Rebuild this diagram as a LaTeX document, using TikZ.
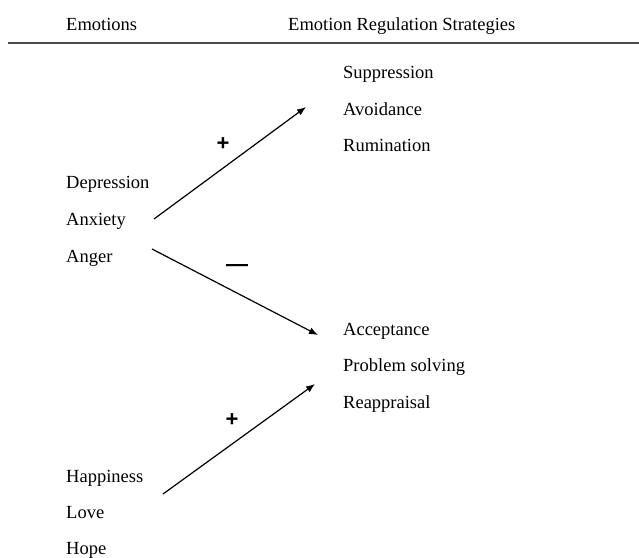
\documentclass[tikz,border=0pt]{standalone}
\usepackage{fontspec}
\setmainfont{Liberation Serif}
\setsansfont{Liberation Sans}
\usetikzlibrary{arrows.meta}

\tikzset{
  lbl/.style={anchor=base west,inner sep=0pt,font=\fontsize{18.5}{22}\selectfont},
  sgn/.style={anchor=base,inner sep=0pt,font=\fontsize{22}{24}\selectfont\sffamily\bfseries},
  link/.style={line width=1.2pt,-{Latex[length=9pt,width=7pt]}}
}

\begin{document}
\begin{tikzpicture}[x=1pt,y=-1pt]
\useasboundingbox (0,0) rectangle (639,557);
% header
\node[lbl] (emo) at (66,30) {Emotions};
\node[lbl] (ers) at (288,30) {Emotion Regulation Strategies};
\draw[line width=1.4pt,black!70] (8,43)--(639,43);
% strategies
\node[lbl] (sup) at (343,78.3) {Suppression};
\node[lbl] (avo) at (343,115) {Avoidance};
\node[lbl] (rum) at (343,151.7) {Rumination};
\node[lbl] (acc) at (343,335) {Acceptance};
\node[lbl] (pro) at (343,371.7) {Problem solving};
\node[lbl] (rea) at (343,408) {Reappraisal};
% emotions
\node[lbl] (dep) at (66,188) {Depression};
\node[lbl] (anx) at (66,225) {Anxiety};
\node[lbl] (ang) at (66,262) {Anger};
\node[lbl] (hap) at (66,482) {Happiness};
\node[lbl] (lov) at (66,518) {Love};
\node[lbl] (hop) at (66,554) {Hope};
% arrow ends
\coordinate (anx-out) at (154,219);
\coordinate (ang-out) at (152,249);
\coordinate (hap-out) at (163,494);
\coordinate (avo-in) at (306,107);
\coordinate (acc-in) at (318,335);
\coordinate (pro-in) at (315,384);
\draw[link] (anx-out)--(avo-in);
\draw[link] (ang-out)--(acc-in);
\draw[link] (hap-out)--(pro-in);
% signs
\node[sgn] (plus-a) at (223,150) {+};
\node[sgn] (minus) at (237,271) {—};
\node[sgn] (plus-b) at (232,426) {+};
\end{tikzpicture}
\end{document}
